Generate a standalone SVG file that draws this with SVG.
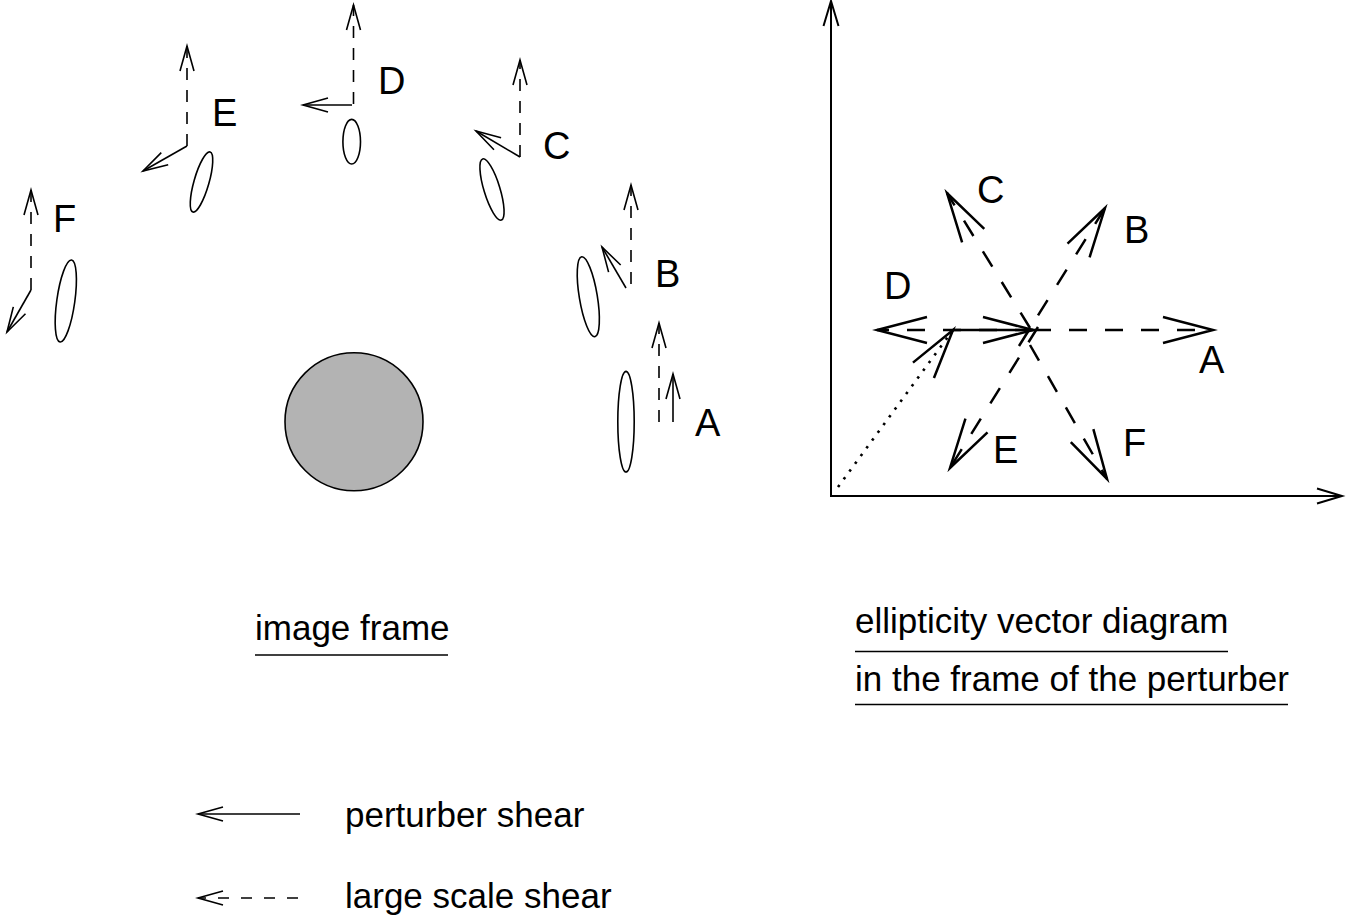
<svg xmlns="http://www.w3.org/2000/svg" width="1358" height="921" viewBox="0 0 1358 921">
<style>
.t{font-family:"Liberation Sans",Arial,sans-serif;font-size:35px;fill:#000}
.lb{font-family:"Liberation Sans",Arial,sans-serif;font-size:38px;fill:#000}
.el{fill:none;stroke:#000;stroke-width:1.6}
.sv{fill:none;stroke:#000;stroke-width:1.6;marker-end:url(#hs)}
.dv{fill:none;stroke:#000;stroke-width:1.6;stroke-dasharray:12 10;marker-end:url(#hs)}
.ax{fill:none;stroke:#000;stroke-width:2;marker-end:url(#ha)}
.ss{fill:none;stroke:#000;stroke-width:2.5;marker-end:url(#hl)}
.ds{fill:none;stroke:#000;stroke-width:2.5;stroke-dasharray:18 18;marker-end:url(#hl)}
.ul{stroke:#000;stroke-width:1.6}
</style>
<defs>
<marker id="hs" markerUnits="userSpaceOnUse" markerWidth="40" markerHeight="40" refX="0" refY="0" orient="auto" overflow="visible">
<path d="M-25,-7 L0,0 L-25,7" fill="none" stroke="#000" stroke-width="1.6" stroke-dasharray="none"/>
</marker>
<marker id="ha" markerUnits="userSpaceOnUse" markerWidth="40" markerHeight="40" refX="0" refY="0" orient="auto" overflow="visible">
<path d="M-25,-7.5 L0,0 L-25,7.5" fill="none" stroke="#000" stroke-width="2" stroke-dasharray="none"/>
</marker>
<marker id="hl" markerUnits="userSpaceOnUse" markerWidth="80" markerHeight="80" refX="0" refY="0" orient="auto" overflow="visible">
<path d="M-50,-13 L0,0 L-50,13" fill="none" stroke="#000" stroke-width="2.5" stroke-dasharray="none"/>
</marker>
</defs>
<rect width="1358" height="921" fill="#fff"/>

<g id="perturber">
<circle cx="354" cy="421.7" r="69" fill="#b3b3b3" stroke="#000" stroke-width="1.6"/>
</g>

<g id="galaxy-A">
<ellipse class="el" cx="626" cy="421.7" rx="8.2" ry="50.3"/>
<text class="lb" x="695" y="436">A</text>
</g>
<g id="galaxy-B">
<ellipse class="el" cx="588.3" cy="296.7" rx="9" ry="40.5" transform="rotate(-9.4 588.3 296.7)"/>
<text class="lb" x="655" y="287">B</text>
</g>
<g id="galaxy-C">
<ellipse class="el" cx="492" cy="189.5" rx="8" ry="32" transform="rotate(-17 492 189.5)"/>
<text class="lb" x="543" y="159">C</text>
</g>
<g id="galaxy-D">
<ellipse class="el" cx="351.7" cy="141.7" rx="8.8" ry="22.3"/>
<text class="lb" x="378" y="94">D</text>
</g>
<g id="galaxy-E">
<ellipse class="el" cx="201.5" cy="182" rx="7.5" ry="31.3" transform="rotate(16 201.5 182)"/>
<text class="lb" x="212" y="126">E</text>
</g>
<g id="galaxy-F">
<ellipse class="el" cx="65.8" cy="301" rx="9" ry="41.4" transform="rotate(8 65.8 301)"/>
<text class="lb" x="53" y="232">F</text>
</g>

<g id="image-frame-connectors">
<line class="dv" x1="659" y1="422" x2="659" y2="323"/>
<line class="sv" x1="673" y1="422" x2="673" y2="374"/>
<line class="dv" x1="631" y1="284" x2="631" y2="185"/>
<line class="sv" x1="626" y1="288" x2="602" y2="247"/>
<line class="dv" x1="520" y1="157" x2="520" y2="60"/>
<line class="sv" x1="520" y1="157" x2="476" y2="131"/>
<line class="dv" x1="353.5" y1="104" x2="353.5" y2="5"/>
<line class="sv" x1="352" y1="105" x2="303" y2="105"/>
<line class="dv" x1="187" y1="146" x2="187" y2="46"/>
<line class="sv" x1="187" y1="146" x2="143" y2="171"/>
<line class="dv" x1="31" y1="290" x2="31" y2="190"/>
<line class="sv" x1="31" y1="290" x2="7" y2="332"/>
</g>

<g id="vector-diagram-axes">
<line class="ax" x1="831" y1="497" x2="831" y2="1"/>
<line class="ax" x1="830" y1="496" x2="1342" y2="496"/>
</g>

<g id="vector-diagram-connectors">
<line x1="838" y1="487" x2="953" y2="330" fill="none" stroke="#000" stroke-width="2.6" stroke-dasharray="2.6 7" marker-end="url(#hl)"/>
<line class="ds" x1="1033" y1="330" x2="1213" y2="330"/>
<line class="ds" x1="1033" y1="330" x2="877" y2="330"/>
<line class="ds" x1="1030" y1="328" x2="947" y2="193"/>
<line class="ds" x1="1019" y1="346" x2="1105" y2="208"/>
<line class="ds" x1="1038" y1="327" x2="950" y2="468"/>
<line class="ds" x1="1030" y1="345" x2="1107" y2="479"/>
<line class="ss" x1="953" y1="330" x2="1033" y2="330"/>
</g>

<g id="vector-labels">
<text class="lb" x="1199" y="373">A</text>
<text class="lb" x="1124" y="243">B</text>
<text class="lb" x="977" y="203">C</text>
<text class="lb" x="884" y="299">D</text>
<text class="lb" x="993" y="463">E</text>
<text class="lb" x="1123" y="456">F</text>
</g>

<g id="captions">
<text class="t" x="255" y="640">image frame</text>
<line class="ul" x1="255" y1="655" x2="448" y2="655"/>
<text class="t" x="855" y="633">ellipticity vector diagram</text>
<line class="ul" x1="855" y1="651.5" x2="1228" y2="651.5"/>
<text class="t" x="855" y="691">in the frame of the perturber</text>
<line class="ul" x1="855" y1="704.5" x2="1288" y2="704.5"/>
</g>

<g id="legend">
<line x1="300" y1="814" x2="198" y2="814" fill="none" stroke="#000" stroke-width="1.6" marker-end="url(#hs)"/>
<text class="t" x="345" y="827">perturber shear</text>
<line x1="298" y1="898" x2="198" y2="898" fill="none" stroke="#000" stroke-width="1.6" stroke-dasharray="11 12" marker-end="url(#hs)"/>
<text class="t" x="345" y="908">large scale shear</text>
</g>
</svg>
